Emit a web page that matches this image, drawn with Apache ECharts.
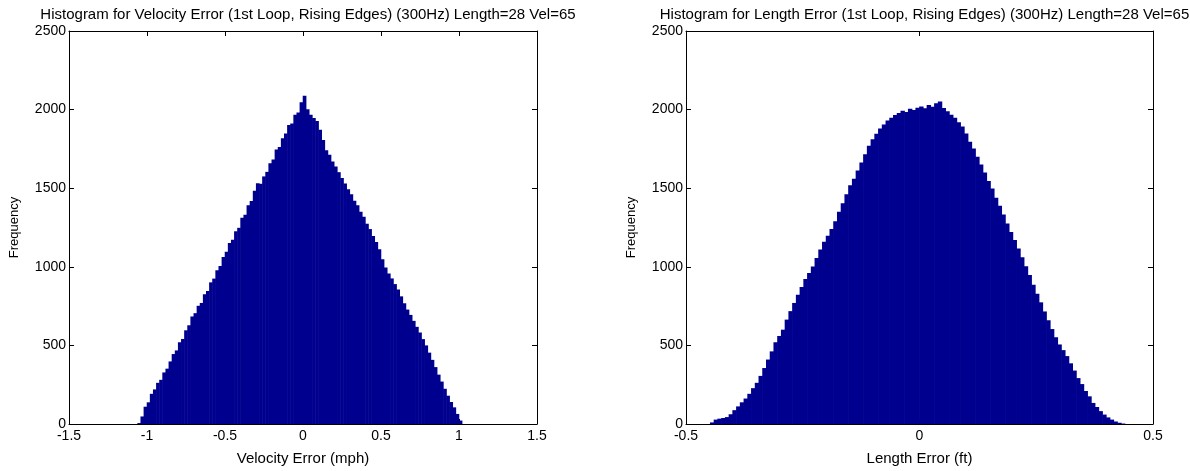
<!DOCTYPE html>
<html>
<head>
<meta charset="utf-8">
<script src="https://cdn.jsdelivr.net/npm/echarts@6/dist/echarts.min.js"></script>
<style>
html,body{margin:0;padding:0;background:#fff;}
#chart{width:1190px;height:471px;}
</style>
</head>
<body>
<div id="chart"></div>
<script>
// ---- Data ----
const titles = [
  'Histogram for Velocity Error (1st Loop, Rising Edges) (300Hz) Length=28 Vel=65',
  'Histogram for Length Error (1st Loop, Rising Edges) (300Hz) Length=28 Vel=65'
];
const xNames = ['Velocity Error (mph)', 'Length Error (ft)'];
const yName = 'Frequency';

// Velocity error histogram: bins of 0.02 starting at centre -1.05
const velBinStart = -1.05;
const velBinWidth = 0.02;
const velCounts = [
  6, 48, 110, 138, 192, 220, 262, 281, 328, 352,
  398, 445, 468, 520, 541, 596, 628, 684, 705, 752,
  770, 826, 846, 901, 925, 978, 1005, 1062, 1096, 1152,
  1172, 1226, 1248, 1312, 1331, 1392, 1418, 1484, 1532, 1528,
  1575, 1604, 1658, 1682, 1746, 1762, 1818, 1848, 1902, 1911,
  1968, 1982, 2046, 2088, 2002, 1968, 1946, 1928, 1872, 1806,
  1742, 1712, 1670, 1638, 1602, 1565, 1530, 1494, 1462, 1420,
  1392, 1350, 1318, 1274, 1240, 1196, 1158, 1112, 1048, 996,
  958, 926, 890, 856, 812, 768, 728, 694, 656, 618,
  582, 540, 500, 454, 408, 362, 314, 270, 224, 180,
  140, 106, 64, 22
];

// Length error histogram: bins of 0.008 starting at centre -0.444
const lenBinStart = -0.444;
const lenBinWidth = 0.008;
const lenCounts = [
  10, 28, 34, 38, 44, 62, 88, 112, 138, 162,
  192, 228, 262, 306, 356, 410, 462, 520, 560, 600,
  664, 718, 770, 822, 872, 922, 960, 1002, 1056, 1110,
  1160, 1198, 1240, 1290, 1350, 1404, 1462, 1518, 1560, 1612,
  1664, 1716, 1770, 1812, 1846, 1880, 1906, 1930, 1948, 1966,
  1978, 1992, 1984, 2006, 1998, 2012, 2020, 2008, 2030, 2018,
  2040, 2052, 2010, 1990, 1968, 1948, 1920, 1892, 1848, 1796,
  1752, 1700, 1650, 1600, 1546, 1498, 1440, 1388, 1332, 1276,
  1222, 1170, 1116, 1060, 1004, 948, 886, 828, 774, 716,
  660, 604, 552, 506, 470, 432, 386, 340, 292, 254,
  210, 176, 134, 108, 82, 60, 42, 28, 16, 8, 3
];

const xRanges = [[-1.5, 1.5, 0.5], [-0.5, 0.5, 0.5]];
const yRange = [0, 2500, 500];

// ---- Build ----
function pairs(start, width, counts) {
  return counts.map((c, i) => [+(start + i * width).toFixed(4), c]);
}

const FONT = '"Liberation Sans", Arial, Helvetica, sans-serif';
const BAR = '#00008F';
const plain = v => String(v);
const grids = [
  { left: 69, top: 31, width: 468, height: 394 },
  { left: 686, top: 31, width: 467, height: 394 }
];

const xAxes = [], yAxes = [], series = [], titleOpts = [];
grids.forEach((g, k) => {
  const [xmin, xmax, xint] = xRanges[k];
  xAxes.push({
    type: 'value', gridIndex: k, position: 'bottom', min: xmin, max: xmax, interval: xint,
    name: xNames[k], nameLocation: 'middle', nameGap: 27,
    nameTextStyle: { color: '#000', fontSize: 15, fontFamily: FONT },
    axisLine: { show: true, onZero: false, lineStyle: { color: '#000', width: 1 } },
    axisTick: { show: true, inside: true, length: 5, lineStyle: { color: '#000' } },
    axisLabel: { color: '#000', fontSize: 14, fontFamily: FONT, margin: 5, formatter: plain },
    splitLine: { show: false }
  });
  xAxes.push({
    type: 'value', gridIndex: k, position: 'top', min: xmin, max: xmax, interval: xint,
    axisLine: { show: true, onZero: false, lineStyle: { color: '#000', width: 1 } },
    axisTick: { show: true, inside: true, length: 5, lineStyle: { color: '#000' } },
    axisLabel: { show: false }, splitLine: { show: false }
  });
  yAxes.push({
    type: 'value', gridIndex: k, position: 'left', min: yRange[0], max: yRange[1], interval: yRange[2],
    name: yName, nameLocation: 'middle', nameGap: 48,
    nameTextStyle: { color: '#000', fontSize: 13, fontFamily: FONT },
    axisLine: { show: true, onZero: false, lineStyle: { color: '#000', width: 1 } },
    axisTick: { show: true, inside: true, length: 5, lineStyle: { color: '#000' } },
    axisLabel: { color: '#000', fontSize: 14, fontFamily: FONT, margin: 3, formatter: plain },
    splitLine: { show: false }
  });
  yAxes.push({
    type: 'value', gridIndex: k, position: 'right', min: yRange[0], max: yRange[1], interval: yRange[2],
    axisLine: { show: true, onZero: false, lineStyle: { color: '#000', width: 1 } },
    axisTick: { show: true, inside: true, length: 5, lineStyle: { color: '#000' } },
    axisLabel: { show: false }, splitLine: { show: false }
  });
  titleOpts.push({
    text: titles[k], left: g.left + g.width / 2, top: 2, textAlign: 'center',
    textStyle: { color: '#000', fontSize: 15, fontWeight: 'normal', fontFamily: FONT }
  });
});

series.push({
  type: 'bar', xAxisIndex: 0, yAxisIndex: 0, barWidth: '118%',
  itemStyle: { color: BAR },
  data: pairs(velBinStart, velBinWidth, velCounts), silent: true
});
series.push({
  type: 'bar', xAxisIndex: 2, yAxisIndex: 2, barWidth: '118%',
  itemStyle: { color: BAR },
  data: pairs(lenBinStart, lenBinWidth, lenCounts), silent: true
});

const chart = echarts.init(document.getElementById('chart'), null, { renderer: 'canvas' });
chart.setOption({
  animation: false,
  backgroundColor: '#fff',
  title: titleOpts,
  grid: grids,
  xAxis: xAxes,
  yAxis: yAxes,
  series: series
});
</script>
</body>
</html>
